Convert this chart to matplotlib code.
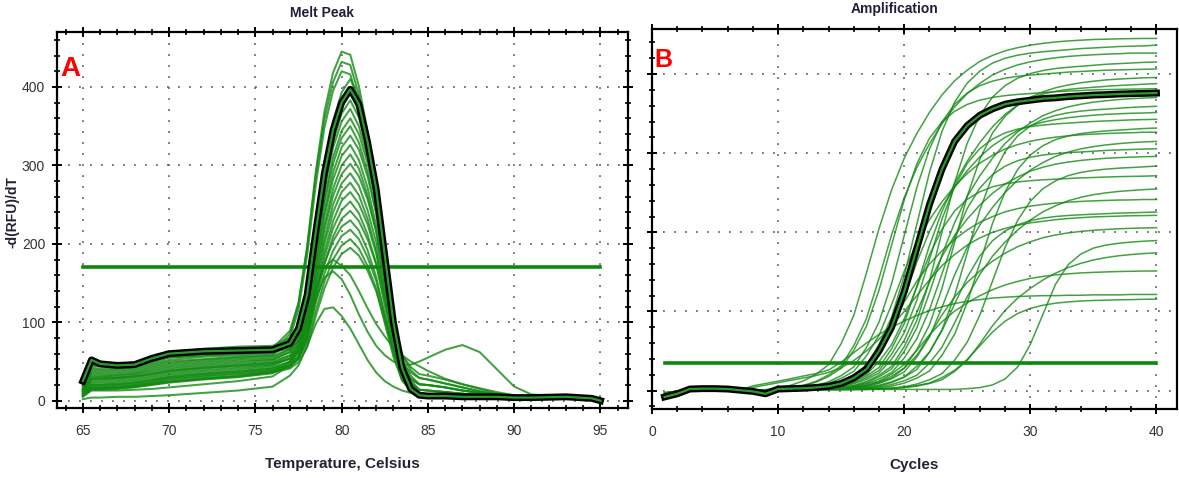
import matplotlib
matplotlib.use('Agg')
import matplotlib.pyplot as plt
from matplotlib.ticker import MultipleLocator, NullFormatter
from matplotlib import font_manager

names = {f.name for f in font_manager.fontManager.ttflist}
NARROW = 'Liberation Sans Narrow' if 'Liberation Sans Narrow' in names else 'Liberation Sans'
plt.rcParams['font.family'] = [NARROW, 'DejaVu Sans']

# ---------------- Panel A: melt peak data ----------------
melt_temps = [65, 65.5, 66, 67, 68, 69, 70, 72, 74, 76, 77, 77.5, 78, 78.5, 79, 79.5,
              80, 80.5, 81, 81.5, 82, 82.5, 83, 83.5, 84, 84.5, 85, 86, 87, 88, 89, 90,
              91, 93, 94.5, 95]
melt_x_ticks = [65, 70, 75, 80, 85, 90, 95]
melt_y_ticks = [0, 100, 200, 300, 400]
melt_threshold = 170
melt_threshold_span = [65, 95]

melt_highlight = [25, 52, 47, 45, 46, 54, 60, 63, 64, 65, 73, 92, 135, 215, 290, 345, 380, 397,
                  378, 330, 270, 185, 100, 42, 15, 7, 6, 6, 5, 5, 5, 4, 4, 5, 3, 0]

melt_curves = [
    [25, 45, 44, 43, 45, 50, 55, 58, 60, 62, 85, 123, 196, 292, 368, 418, 445, 441, 401, 344, 269, 182, 94, 37, 15, 7, 6, 6, 5, 5, 5, 4, 4, 4, 3, 1],
    [26, 48, 46, 45, 47, 53, 59, 63, 66, 67, 89, 125, 195, 286, 359, 406, 432, 428, 390, 334, 262, 178, 93, 38, 16, 8, 7, 6, 6, 5, 5, 5, 4, 4, 3, 0],
    [22, 40, 39, 39, 41, 46, 50, 53, 56, 58, 80, 116, 185, 275, 348, 395, 420, 416, 379, 325, 254, 172, 89, 35, 14, 7, 6, 6, 5, 5, 5, 4, 4, 4, 3, 1],
    [28, 50, 48, 47, 49, 56, 62, 66, 69, 70, 80, 97, 138, 223, 298, 356, 393, 410, 386, 341, 280, 191, 102, 41, 17, 5, 4, 4, 4, 3, 3, 3, 3, 3, 2, -1],
    [20, 36, 35, 35, 37, 42, 46, 50, 53, 55, 65, 83, 124, 210, 286, 345, 383, 400, 376, 333, 274, 187, 101, 41, 18, 7, 6, 6, 5, 5, 5, 4, 4, 4, 3, 1],
    [24, 42, 41, 41, 43, 48, 52, 56, 58, 60, 70, 87, 126, 209, 282, 339, 375, 392, 369, 327, 269, 185, 100, 43, 20, 8, 7, 6, 6, 5, 5, 5, 4, 4, 3, 0],
    [18, 32, 31, 32, 34, 38, 42, 46, 49, 52, 62, 78, 118, 201, 274, 330, 366, 383, 361, 320, 265, 184, 103, 48, 26, 14, 13, 11, 9, 7, 5, 4, 4, 3, 2, 0],
    [21, 38, 37, 37, 39, 44, 48, 52, 55, 57, 66, 82, 120, 199, 268, 322, 356, 372, 350, 310, 255, 174, 94, 39, 17, 7, 6, 6, 5, 5, 5, 4, 4, 4, 3, 1],
    [15, 28, 28, 29, 31, 34, 38, 42, 45, 48, 57, 73, 110, 188, 257, 310, 344, 360, 340, 303, 252, 177, 103, 52, 32, 21, 20, 17, 13, 10, 7, 5, 4, 4, 3, 1],
    [19, 34, 33, 33, 35, 40, 44, 48, 51, 53, 62, 77, 112, 187, 252, 302, 335, 350, 329, 292, 240, 164, 89, 37, 16, 7, 6, 6, 5, 5, 5, 4, 4, 4, 3, 1],
    [13, 24, 24, 25, 27, 30, 34, 38, 41, 45, 54, 68, 104, 177, 241, 291, 323, 338, 320, 286, 239, 172, 104, 58, 39, 29, 27, 22, 17, 12, 8, 5, 4, 4, 3, 1],
    [16, 30, 30, 30, 32, 36, 40, 44, 47, 50, 58, 72, 105, 174, 235, 282, 312, 326, 307, 272, 224, 154, 84, 37, 18, 8, 7, 6, 6, 5, 5, 5, 4, 4, 3, 0],
    [11, 20, 20, 21, 23, 26, 30, 34, 37, 41, 49, 63, 96, 164, 224, 270, 300, 314, 296, 262, 215, 148, 80, 34, 15, 7, 6, 6, 5, 5, 5, 4, 4, 4, 3, 1],
    [14, 26, 26, 27, 29, 32, 36, 40, 43, 46, 54, 66, 97, 161, 218, 261, 289, 302, 286, 257, 217, 158, 99, 59, 43, 34, 32, 27, 21, 15, 9, 6, 5, 4, 3, 2],
    [9, 17, 17, 18, 20, 23, 27, 31, 34, 38, 46, 58, 88, 151, 207, 250, 277, 290, 274, 243, 202, 142, 81, 40, 23, 14, 13, 11, 9, 7, 5, 4, 4, 3, 2, 0],
    [12, 22, 22, 23, 25, 28, 32, 36, 39, 43, 50, 62, 90, 149, 200, 240, 266, 278, 262, 232, 191, 131, 71, 30, 14, 7, 6, 6, 5, 5, 5, 4, 4, 4, 3, 1],
    [7, 15, 15, 16, 18, 21, 24, 28, 31, 36, 43, 54, 82, 140, 190, 229, 255, 266, 251, 225, 188, 134, 81, 44, 29, 21, 20, 17, 13, 10, 7, 5, 4, 4, 3, 1],
    [10, 18, 18, 19, 21, 24, 28, 32, 35, 39, 45, 56, 82, 136, 183, 220, 243, 254, 239, 212, 175, 121, 67, 30, 15, 8, 7, 6, 6, 5, 5, 5, 4, 4, 3, 0],
    [8, 16, 16, 17, 19, 22, 25, 29, 32, 37, 43, 53, 78, 129, 174, 209, 232, 242, 229, 206, 174, 128, 81, 49, 36, 29, 27, 22, 17, 12, 8, 5, 4, 4, 3, 1],
    [25, 45, 44, 43, 45, 50, 55, 58, 60, 62, 67, 75, 96, 138, 175, 203, 222, 230, 217, 192, 158, 109, 60, 26, 13, 7, 6, 6, 5, 5, 5, 4, 4, 4, 3, 1],
    [15, 28, 28, 29, 31, 34, 38, 42, 45, 48, 53, 62, 82, 125, 162, 191, 210, 218, 206, 183, 153, 108, 64, 33, 21, 14, 13, 11, 9, 7, 5, 4, 4, 3, 2, 0],
    [11, 20, 20, 21, 23, 26, 30, 34, 37, 41, 46, 54, 74, 115, 152, 180, 198, 206, 194, 172, 143, 99, 56, 26, 14, 8, 7, 6, 6, 5, 5, 5, 4, 4, 3, 0],
    [7, 15, 15, 16, 18, 21, 24, 28, 31, 36, 41, 49, 68, 108, 143, 170, 187, 195, 185, 166, 140, 102, 64, 38, 27, 21, 20, 17, 13, 10, 7, 5, 4, 4, 3, 1],
    [2, 4, 4, 5, 5, 6, 7, 10, 13, 18, 32, 45, 70, 98, 117, 119, 108, 92, 72, 52, 36, 25, 18, 13, 10, 8, 7, 6, 5, 5, 4, 4, 4, 4, 3, 1],
    [5, 13, 13, 13, 14, 15, 17, 21, 25, 31, 45, 65, 95, 130, 157, 165, 155, 135, 110, 88, 70, 58, 50, 46, 46, 50, 55, 65, 71, 62, 40, 18, 8, 5, 3, 1],
    [6, 14, 14, 15, 17, 20, 23, 27, 30, 35, 50, 72, 105, 142, 170, 180, 172, 160, 140, 118, 98, 82, 68, 58, 50, 44, 38, 28, 21, 16, 11, 7, 5, 4, 3, 1],
]

# ---------------- Panel B: amplification data ----------------
cycles = list(range(1, 41))
amp_x_ticks = [0, 10, 20, 30, 40]
amp_y_grid = [0, 1000, 2000, 3000, 4000]
amp_threshold = 354
amp_threshold_span = [1, 40]

amp_highlight = [-80, -40, 20, 25, 25, 20, 5, -10, -40, 20, 25, 30, 40, 55, 90, 160, 270, 500, 800, 1250,
                 1800, 2350, 2800, 3150, 3350, 3480, 3560, 3620, 3650, 3670, 3690, 3700, 3715, 3725, 3735,
                 3740, 3748, 3752, 3756, 3760]

amp_curves = [
    [-70, -30, 5, 12, 14, 10, 6, 3, 13, 37, 68, 122, 206, 327, 594, 950, 1484, 2047, 2537, 2937, 3249, 3516, 3738, 3916, 4050, 4161, 4236, 4294, 4334, 4365, 4388, 4406, 4419, 4428, 4437, 4441, 4445, 4448, 4450, 4450],
    [-40, -15, 10, 15, 15, 12, 8, 5, 0, 10, 15, 28, 41, 67, 119, 202, 320, 581, 929, 1451, 2103, 2756, 3278, 3647, 3887, 4039, 4139, 4200, 4239, 4265, 4282, 4295, 4308, 4322, 4330, 4339, 4348, 4352, 4356, 4365],
    [-60, -25, 8, 14, 15, 11, 7, 4, 0, 23, 41, 66, 117, 198, 313, 568, 908, 1418, 1970, 2438, 2820, 3118, 3373, 3585, 3755, 3883, 3989, 4061, 4116, 4155, 4184, 4206, 4223, 4235, 4244, 4252, 4257, 4265, 4265, 4265],
    [-30, -10, 12, 16, 14, 12, 9, 6, 2, 10, 14, 15, 15, 27, 40, 65, 115, 193, 306, 555, 887, 1385, 2007, 2630, 3128, 3480, 3709, 3854, 3949, 4007, 4045, 4070, 4086, 4099, 4111, 4124, 4132, 4140, 4148, 4153],
    [-80, -35, 5, 12, 13, 10, 6, 3, -2, 8, 27, 39, 64, 112, 189, 299, 542, 866, 1352, 1959, 2567, 3053, 3397, 3620, 3761, 3854, 3911, 3948, 3972, 3988, 4000, 4012, 4025, 4033, 4041, 4049, 4053, 4057, 4060, 4065],
    [-45, -18, 10, 15, 15, 12, 8, 5, 0, 10, 15, 15, 27, 39, 62, 110, 185, 292, 529, 845, 1319, 1832, 2267, 2622, 2899, 3136, 3333, 3491, 3610, 3708, 3775, 3827, 3862, 3890, 3910, 3926, 3937, 3945, 3953, 3957],
    [-35, -12, 11, 15, 16, 12, 9, 6, 1, 10, 14, 15, 15, 15, 27, 38, 62, 108, 182, 287, 519, 830, 1295, 1877, 2459, 2925, 3255, 3468, 3604, 3693, 3748, 3782, 3806, 3821, 3833, 3845, 3856, 3864, 3872, 3879],
    [-55, -22, 8, 14, 14, 11, 7, 4, -1, 21, 38, 61, 106, 178, 281, 509, 813, 1269, 1839, 2409, 2865, 3188, 3397, 3530, 3617, 3671, 3705, 3728, 3743, 3754, 3766, 3777, 3785, 3792, 3800, 3804, 3807, 3810, 3812, 3815],
    [-65, -28, 6, 13, 14, 11, 7, 4, 0, 9, 14, 15, 15, 26, 37, 59, 104, 174, 274, 496, 792, 1236, 1717, 2124, 2457, 2716, 2938, 3123, 3271, 3382, 3475, 3537, 3586, 3619, 3645, 3663, 3678, 3689, 3697, 3704],
    [-25, -8, 12, 16, 15, 13, 9, 6, 2, 11, 15, 15, 15, 15, 15, 26, 37, 58, 101, 170, 267, 483, 771, 1203, 1743, 2283, 2715, 3021, 3219, 3345, 3428, 3478, 3511, 3532, 3547, 3557, 3568, 3579, 3586, 3593],
    [-50, -20, 9, 14, 15, 12, 8, 5, 0, 10, 15, 26, 36, 57, 99, 166, 260, 470, 750, 1170, 1625, 2010, 2325, 2570, 2780, 2955, 3095, 3200, 3288, 3347, 3393, 3424, 3449, 3466, 3480, 3491, 3498, 3505, 3508, 3515],
    [-70, -30, 5, 12, 13, 10, 6, 3, -2, 8, 14, 15, 25, 36, 56, 97, 162, 254, 460, 733, 1144, 1657, 2170, 2580, 2871, 3059, 3179, 3257, 3305, 3336, 3356, 3370, 3380, 3391, 3401, 3408, 3414, 3421, 3425, 3428],
    [-40, -15, 10, 15, 15, 12, 8, 5, 0, 10, 15, 15, 15, 15, 15, 15, 25, 35, 55, 95, 158, 248, 448, 714, 1114, 1613, 2113, 2513, 2796, 2979, 3095, 3172, 3218, 3248, 3268, 3282, 3292, 3302, 3312, 3318],
    [-60, -25, 7, 13, 14, 11, 7, 4, 0, 9, 25, 35, 54, 93, 155, 243, 438, 698, 1088, 1510, 1868, 2160, 2388, 2583, 2745, 2875, 2973, 3054, 3109, 3151, 3181, 3203, 3220, 3233, 3242, 3249, 3255, 3259, 3265, 3265],
    [-30, -10, 12, 16, 15, 13, 9, 6, 2, 11, 15, 15, 15, 15, 24, 34, 53, 91, 150, 236, 425, 677, 1055, 1464, 1811, 2094, 2315, 2504, 2661, 2787, 2882, 2960, 3014, 3055, 3083, 3105, 3121, 3134, 3143, 3149],
    [-75, -32, 4, 12, 13, 10, 6, 3, -2, 8, 14, 15, 15, 24, 33, 52, 88, 146, 229, 412, 656, 1022, 1479, 1937, 2303, 2562, 2730, 2836, 2906, 2949, 2977, 2995, 3007, 3016, 3025, 3035, 3041, 3047, 3053, 3056],
    [-45, -18, 10, 15, 15, 12, 8, 5, 0, 10, 15, 15, 24, 33, 50, 86, 142, 222, 399, 635, 989, 1372, 1697, 1962, 2169, 2346, 2493, 2611, 2700, 2773, 2823, 2862, 2888, 2909, 2924, 2936, 2944, 2950, 2956, 2959],
    [-35, -12, 11, 15, 16, 12, 9, 6, 1, 10, 14, 15, 15, 15, 15, 15, 15, 24, 32, 49, 83, 138, 215, 386, 614, 956, 1383, 1811, 2153, 2395, 2552, 2651, 2717, 2757, 2782, 2799, 2811, 2819, 2828, 2837],
    [-55, -22, 8, 14, 14, 11, 7, 4, -1, 9, 14, 23, 31, 47, 80, 131, 204, 366, 582, 906, 1311, 1716, 2040, 2270, 2418, 2513, 2575, 2612, 2637, 2653, 2664, 2672, 2680, 2688, 2693, 2699, 2704, 2707, 2710, 2715],
    [-65, -28, 6, 13, 14, 11, 7, 4, 0, 9, 14, 15, 15, 15, 15, 23, 30, 46, 76, 125, 194, 347, 551, 857, 1188, 1469, 1698, 1877, 2030, 2157, 2259, 2336, 2399, 2443, 2476, 2499, 2517, 2529, 2540, 2547],
    [-25, -8, 12, 16, 15, 13, 9, 6, 2, 11, 22, 29, 44, 73, 118, 183, 327, 519, 807, 1119, 1383, 1599, 1767, 1911, 2031, 2127, 2199, 2259, 2300, 2331, 2353, 2369, 2381, 2391, 2398, 2403, 2408, 2410, 2415, 2415],
    [-50, -20, 9, 14, 15, 12, 8, 5, 0, 10, 15, 15, 15, 15, 22, 29, 42, 69, 112, 173, 308, 488, 758, 1095, 1433, 1703, 1894, 2018, 2096, 2148, 2180, 2200, 2213, 2222, 2229, 2236, 2243, 2247, 2252, 2256],
    [-70, -30, 5, 12, 13, 10, 6, 3, -2, 8, 14, 15, 15, 21, 27, 40, 64, 103, 159, 282, 446, 692, 958, 1184, 1368, 1512, 1635, 1737, 1819, 1881, 1932, 1967, 1993, 2012, 2026, 2036, 2045, 2051, 2055, 2059],
    [-40, -15, 10, 15, 15, 12, 8, 5, 0, 10, 15, 15, 15, 15, 15, 15, 15, 15, 15, 15, 15, 15, 15, 15, 25, 38, 72, 148, 300, 585, 965, 1345, 1592, 1725, 1801, 1839, 1862, 1877, 1888, 1896],
    [-60, -25, 7, 13, 14, 11, 7, 4, 0, 9, 14, 15, 20, 24, 33, 51, 80, 120, 210, 330, 510, 705, 870, 1005, 1110, 1200, 1275, 1335, 1380, 1418, 1443, 1463, 1476, 1487, 1494, 1500, 1505, 1508, 1511, 1512],
    [-45, -18, 10, 15, 15, 12, 8, 60, 90, 120, 150, 185, 215, 260, 360, 480, 600, 710, 800, 880, 950, 1010, 1060, 1100, 1130, 1150, 1170, 1180, 1190, 1195, 1200, 1200, 1205, 1205, 1210, 1210, 1210, 1215, 1215, 1215],
    [-35, -12, 11, 15, 16, 12, 9, 6, 1, 10, 14, 15, 15, 15, 15, 15, 18, 22, 29, 43, 64, 96, 165, 257, 395, 567, 740, 878, 975, 1039, 1079, 1105, 1121, 1132, 1139, 1143, 1147, 1150, 1154, 1156],
    [-50, -20, 9, 14, 15, 12, 8, 5, 0, 10, 15, 15, 15, 15, 15, 15, 15, 20, 26, 36, 57, 90, 138, 243, 383, 593, 820, 1013, 1170, 1293, 1398, 1485, 1555, 1608, 1651, 1681, 1704, 1720, 1732, 1741],
    [-30, -10, 12, 16, 15, 13, 9, 40, 70, 100, 130, 160, 190, 230, 290, 380, 500, 650, 820, 1000, 1200, 1400, 1580, 1720, 1840, 1930, 2000, 2050, 2090, 2120, 2140, 2160, 2175, 2185, 2195, 2200, 2205, 2210, 2212, 2215],
]

# ---------------- styling ----------------
GREEN = '#138a13'
THR_GREEN = '#0f870f'
GRID = dict(color='#555555', linestyle=(0, (1.2, 6)), linewidth=1.1)
TXT = '#222233'

fig = plt.figure(figsize=(11.79, 4.78), dpi=100)
axA = fig.add_axes([0.0483, 0.1464, 0.4844, 0.7866])
axB = fig.add_axes([0.553, 0.1444, 0.445, 0.795])


def style_axes(ax):
    for sp in ax.spines.values():
        sp.set_linewidth(1.6)
        sp.set_color('black')
    ax.tick_params(which='major', direction='inout', length=7, width=1.4,
                   labelsize=10, labelcolor='#333333', pad=8)
    ax.tick_params(which='minor', direction='inout', length=4, width=1.2)
    ax.tick_params(which='both', top=True, right=True)
    ax.grid(True, which='major', **GRID)
    ax.set_axisbelow(True)


# Panel A
for curve in melt_curves:
    axA.plot(melt_temps[:len(curve)], curve, color=GREEN, lw=1.45, alpha=0.8)
axA.plot(melt_threshold_span, [melt_threshold, melt_threshold], color=THR_GREEN, lw=2.6)
axA.plot(melt_temps, melt_highlight, color='black', lw=5.0, solid_joinstyle='round')
axA.plot(melt_temps, melt_highlight, color='#2a9a2a', lw=1.6)
axA.set_xlim(63.5, 96.6)
axA.set_ylim(-9.3, 470)
axA.set_xticks(melt_x_ticks)
axA.set_yticks(melt_y_ticks)
axA.xaxis.set_minor_locator(MultipleLocator(1))
axA.yaxis.set_minor_locator(MultipleLocator(20))
style_axes(axA)
axA.tick_params(axis='y', pad=5)
axA.set_xlabel('Temperature, Celsius', fontsize=11, fontweight='bold', color=TXT, labelpad=14)
axA.text(0.006, 0.935, 'A', transform=axA.transAxes, color='#ff0000', fontsize=20,
         fontweight='bold', family='Liberation Sans', va='top', ha='left')
fig.text(13 / 1179, 1 - 212 / 478, '-d(RFU)/dT', rotation=90, ha='center', va='center',
         fontsize=10, fontweight='bold', color=TXT)

# Panel B
for curve in amp_curves:
    axB.plot(cycles[:len(curve)], curve, color=GREEN, lw=1.1, alpha=0.8)
axB.plot(amp_threshold_span, [amp_threshold, amp_threshold], color=THR_GREEN, lw=2.6)
axB.plot(cycles, amp_highlight, color='black', lw=5.0)
axB.plot(cycles, amp_highlight, color='#2a9a2a', lw=1.6)
axB.set_xlim(0, 41.6)
axB.set_ylim(-232, 4570)
axB.set_xticks(amp_x_ticks)
axB.set_yticks(amp_y_grid)
axB.xaxis.set_minor_locator(MultipleLocator(2))
axB.yaxis.set_minor_locator(MultipleLocator(200))
style_axes(axB)
axB.tick_params(axis='y', which='both', labelleft=False, right=False)
axB.yaxis.set_major_formatter(NullFormatter())
axB.set_xlabel('Cycles', fontsize=11, fontweight='bold', color=TXT, labelpad=14)
axB.text(0.004, 0.95, 'B', transform=axB.transAxes, color='#ff0000', fontsize=18,
         fontweight='bold', family='Liberation Sans', va='top', ha='left')

fig.text(322 / 1179, 1 - 13 / 478, 'Melt Peak', ha='center', va='center', fontsize=10,
         fontweight='bold', color='#1f1f3a')
fig.text(895 / 1179, 1 - 9 / 478, 'Amplification', ha='center', va='center', fontsize=10,
         fontweight='bold', color='#1f1f3a')

fig.savefig('out.png', dpi=100)
